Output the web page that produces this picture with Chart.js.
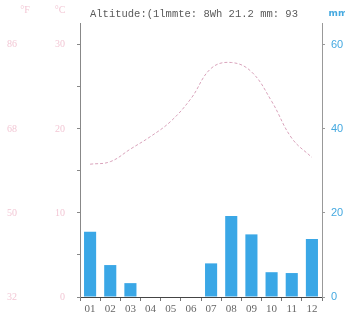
<!DOCTYPE html>
<html>
<head>
<meta charset="utf-8">
<script src="https://cdn.jsdelivr.net/npm/chart.js@4.4.0/dist/chart.umd.min.js"></script>
<style>
  html,body{margin:0;padding:0;background:#fff;overflow:hidden;}
  #wrap{width:345px;height:325px;position:relative;}
</style>
</head>
<body>
<div id="wrap"><canvas id="climate" width="345" height="325"></canvas></div>
<script>
  // Dados do climograma
  const months = ['01','02','03','04','05','06','07','08','09','10','11','12'];
  const precipMm = [15.5, 7.6, 3.3, 0, 0, 0, 8.0, 19.3, 14.9, 5.9, 5.7, 13.8];
  const tempC = [15.8, 16.1, 17.6, 19.1, 20.9, 23.6, 27.2, 27.9, 26.8, 23.3, 18.9, 16.6];
  const ticksC = [0, 5, 10, 15, 20, 25, 30];
  const ticksF = [32, 50, 68, 86];
  const ticksMm = [0, 20, 40, 60];
  const headerText = 'Altitude:(1lmmte: 8Wh 21.2 mm: 93';

  const maxC = 32.6;
  const maxMm = maxC * 2;
  const maxF = maxC * 1.8 + 32;

  const pinkLabel = 'rgba(232,150,175,0.55)';
  const blueLabel = '#45a9e0';

  // cabeçalho + unidades no topo
  const headerPlugin = {
    id:'header',
    afterDraw(chart){
      const {ctx, chartArea} = chart;
      ctx.save();
      ctx.textBaseline = 'middle';
      ctx.fillStyle = '#5a5a5a';
      ctx.font = '10.5px "Liberation Mono", monospace';
      ctx.textAlign = 'left';
      ctx.fillText(headerText, chartArea.left + 10, 14);
      ctx.fillStyle = pinkLabel;
      ctx.font = '10px "Liberation Serif", serif';
      ctx.textAlign = 'center';
      ctx.fillText('°F', 25, 10);
      ctx.fillText('°C', 60, 10);
      ctx.fillStyle = blueLabel;
      ctx.font = 'bold 9px "DejaVu Sans", sans-serif';
      ctx.fillText('mm', 338, 14);
      ctx.restore();
    }
  };

  new Chart(document.getElementById('climate').getContext('2d'), {
    type:'bar',
    data:{
      labels: months,
      datasets:[
        { type:'line', label:'°C', data: tempC, yAxisID:'y', borderColor:'#d9a3bb', borderWidth:1,
          borderDash:[3,2], tension:0.4, pointRadius:0, fill:false, order:0 },
        { type:'bar', label:'mm', data: precipMm, yAxisID:'yR', backgroundColor:'#3aa7e6',
          barPercentage:0.6, categoryPercentage:1.0, order:1 }
      ]
    },
    options:{
      responsive:false,
      animation:false,
      layout:{ padding:{ top:20, left:0, right:0, bottom:0 } },
      plugins:{ legend:{display:false}, tooltip:{enabled:false} },
      scales:{
        x:{
          offset:true,
          grid:{ drawOnChartArea:false, tickLength:4, color:'#777', offset:true },
          border:{ color:'#444' },
          ticks:{ color:'#666', font:{ family:'Liberation Serif', size:11 }, padding:2, maxRotation:0 },
          afterFit(s){ s.height = 28; }
        },
        yF:{
          position:'left', weight:1, min:32, max:maxF,
          grid:{ display:false }, border:{ display:false },
          afterBuildTicks(s){ s.ticks = ticksF.map(v=>({value:v})); },
          ticks:{ color:pinkLabel, font:{ family:'Liberation Serif', size:10 }, padding:17 },
          afterFit(s){ s.width = 42; }
        },
        y:{
          position:'left', weight:0, min:0, max:maxC,
          grid:{ drawOnChartArea:false, tickLength:3, color:'#888' },
          border:{ color:'#888' },
          afterBuildTicks(s){ s.ticks = ticksC.map(v=>({value:v})); },
          ticks:{ color:pinkLabel, font:{ family:'Liberation Serif', size:10 }, padding:12,
            callback:(v)=> (v % 10 === 0 ? String(v) : '') },
          afterFit(s){ s.width = 38; }
        },
        yR:{
          position:'right', min:0, max:maxMm,
          grid:{ drawOnChartArea:false, tickLength:3, color:'#999' },
          border:{ color:'#999' },
          afterBuildTicks(s){ s.ticks = ticksMm.map(v=>({value:v})); },
          ticks:{ color:blueLabel, font:{ family:'Liberation Sans', size:11 }, padding:6 },
          afterFit(s){ s.width = 23; }
        }
      }
    },
    plugins:[headerPlugin]
  });
</script>
</body>
</html>
